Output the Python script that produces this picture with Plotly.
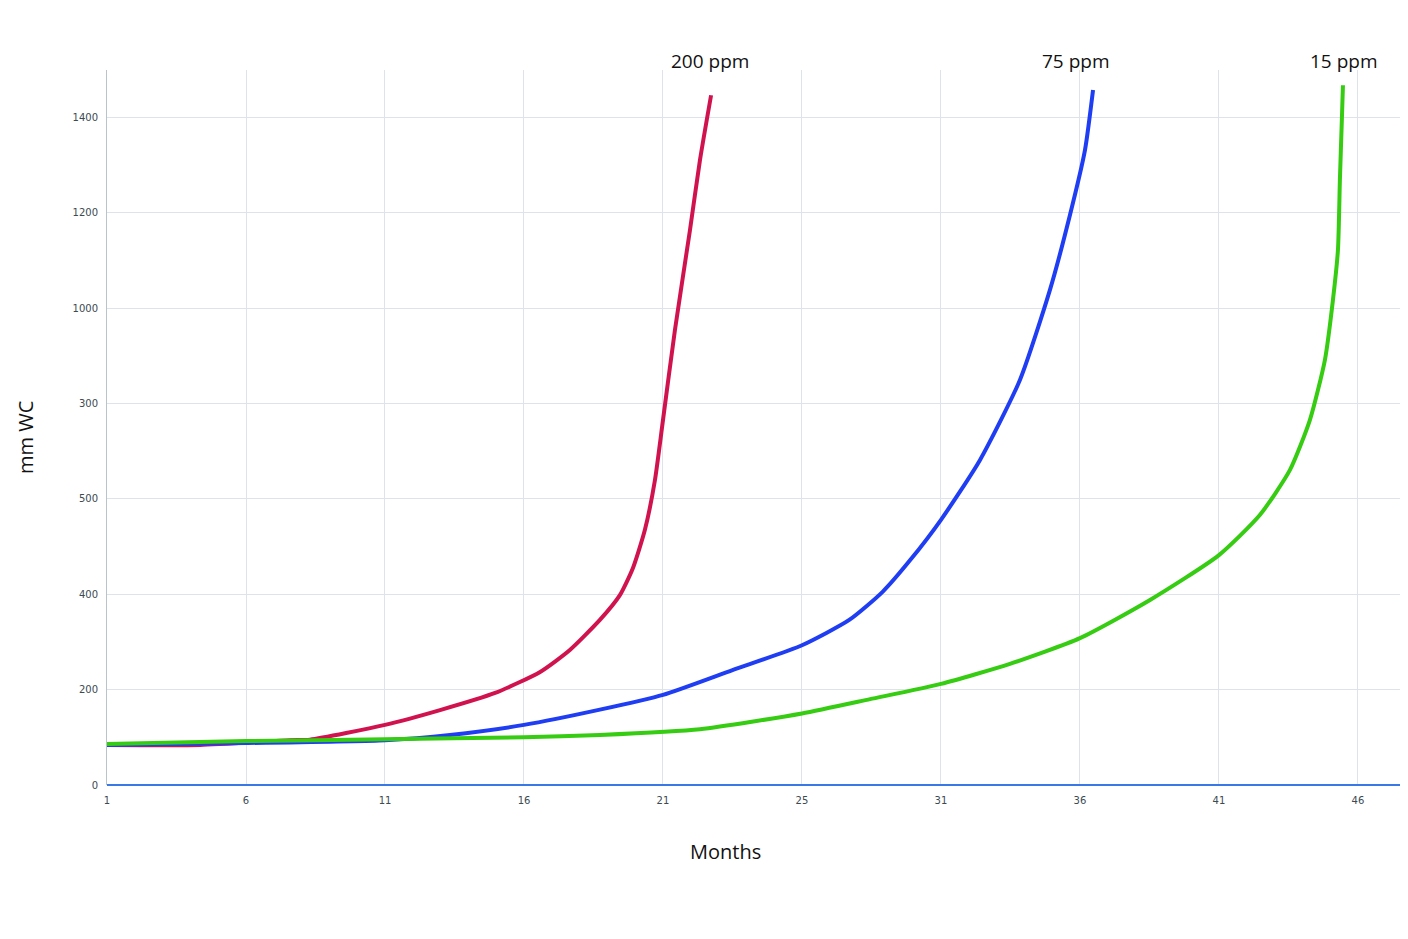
import plotly.graph_objects as go

# months vs mm WC
months_200 = [1, 4.35, 7.58, 8.3, 11, 12.98, 14.96, 16.58, 17.65, 18.73, 19.45, 19.92, 20.35, 20.71, 21.0, 21.43, 21.97, 22.33, 22.73]
mmwc_200 = [84, 84, 94, 95, 126, 157, 193, 237, 283, 346, 398, 455, 535, 639, 765, 954, 1163, 1310, 1446]

months_75 = [1, 6, 11, 13.34, 16, 18.73, 21, 23.5, 26, 27.7, 28.9, 29.9, 31, 32.4, 33.84, 34.92, 35.64, 36.18, 36.47]
mmwc_75 = [84, 88, 94, 105, 126, 158, 189, 241, 293, 346, 405, 472, 556, 681, 849, 1038, 1195, 1331, 1457]

months_15 = [1, 6, 11, 16, 18.73, 22.33, 26, 28.45, 31, 33.48, 36, 38.52, 41, 42.47, 43.55, 44.27, 44.81, 45.1, 45.28, 45.35, 45.42, 45.46]
mmwc_15 = [86, 92, 96, 100, 105, 117, 150, 180, 212, 254, 308, 388, 482, 566, 660, 765, 891, 1017, 1122, 1268, 1394, 1467]

x_ticks = [1, 6, 11, 16, 21, 26, 31, 36, 41, 46]
x_ticktext = ['1', '6', '11', '16', '21', '25', '31', '36', '41', '46']
y_ticks = [0, 200, 400, 600, 800, 1000, 1200, 1400]
y_ticktext = ['0', '200', '400', '500', '300', '1000', '1200', '1400']

series = [
    ('200 ppm', months_200, mmwc_200, '#d0134f', 22.69),
    ('75 ppm', months_75, mmwc_75, '#1f3df2', 35.86),
    ('15 ppm', months_15, mmwc_15, '#35cc12', 45.5),
]

fig = go.Figure()
for name, x, y, color, label_x in series:
    fig.add_trace(go.Scatter(x=x, y=y, mode='lines', name=name,
                             line=dict(color=color, width=4, shape='spline', smoothing=0.6)))
    fig.add_annotation(x=label_x, y=1, xref='x', yref='paper', yshift=24, showarrow=False,
                       text=name, font=dict(family='Open Sans', size=19, color='#111'))

fig.add_annotation(x=-97 / 1301, y=0.5, xref='paper', yref='paper', yshift=-10, showarrow=False,
                   textangle=-90, text='mm WC', font=dict(family='Open Sans', size=20, color='#111'))
fig.add_annotation(x=618 / 1301, y=0, xref='paper', yref='paper', yshift=-82, showarrow=False,
                   text='Months', font=dict(family='Open Sans', size=20, color='#111'))

# page body has an 8px margin, so the figure is shrunk by that much
fig.update_layout(
    width=1400, height=923,
    margin=dict(l=99, r=0, t=62, b=146),
    plot_bgcolor='white', paper_bgcolor='white',
    showlegend=False,
    xaxis=dict(range=[1, 47.8], tickvals=x_ticks, ticktext=x_ticktext,
               showgrid=True, gridcolor='#dde3e8', gridwidth=1,
               zeroline=False, showline=False, ticks='',
               ticklabelstandoff=8,
               tickfont=dict(family='DejaVu Sans', size=10, color='#3c4a52')),
    yaxis=dict(range=[0, 1499], tickvals=y_ticks, ticktext=y_ticktext,
               showgrid=True, gridcolor='#dde3e8', gridwidth=1,
               zeroline=True, zerolinecolor='#3a78e6', zerolinewidth=2,
               showline=True, linecolor='#b8c4cc', linewidth=1, ticks='',
               ticklabelstandoff=6,
               tickfont=dict(family='DejaVu Sans', size=10, color='#3c4a52')),
)

fig.write_html('out.html')
